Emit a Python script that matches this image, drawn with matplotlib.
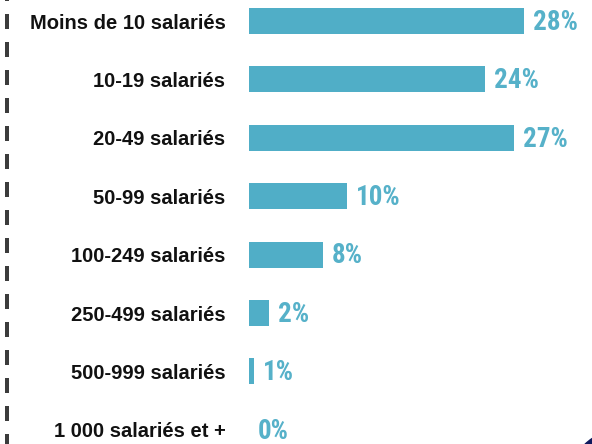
import matplotlib
matplotlib.use("Agg")
import matplotlib.pyplot as plt
from matplotlib.lines import Line2D
from matplotlib.patches import Circle
from matplotlib import font_manager

categories = ["Moins de 10 salariés", "10-19 salariés", "20-49 salariés",
              "50-99 salariés", "100-249 salariés", "250-499 salariés",
              "500-999 salariés", "1 000 salariés et +"]
values = [28, 24, 27, 10, 7.5, 2, 0.5, 0]
value_labels = ["28%", "24%", "27%", "10%", "8%", "2%", "1%", "0%"]

BAR = "#50aec7"
TXT = "#56b1c9"

names = {f.name for f in font_manager.fontManager.ttflist}
val_family = "Roboto Condensed" if "Roboto Condensed" in names else "Roboto"

plt.rcParams['lines.scale_dashes'] = False
W, H = 592, 444
fig = plt.figure(figsize=(W / 100, H / 100), dpi=100)

ax = fig.add_axes([249 / W, 0, 334 / W, 1])
ax.set_xlim(0, 334 / 9.82)
row = 58.4
ax.set_ylim((H - 21) / row, -21 / row)

ypos = list(range(len(categories)))
ax.barh(ypos, values, height=26 / row, color=BAR)
for y, v, lab in zip(ypos, values, value_labels):
    ax.annotate(lab, (v, y), xytext=(6.5, -1), textcoords="offset points",
                va="center", ha="left", color=TXT, fontsize=19.5,
                fontweight=600, family=val_family)

ax.set_yticks(ypos)
ax.set_yticklabels(categories, fontsize=14.5, fontweight="bold",
                   family="Liberation Sans", color="#111111")
ax.tick_params(axis="y", length=0, pad=17)
ax.set_xticks([])
for s in ax.spines.values():
    s.set_visible(False)

# left dashed rule
ln = Line2D([7 / W, 7 / W], [1, 0], transform=fig.transFigure,
            color="#3c3c3c", linewidth=4 * 0.72,
            linestyle=(10.08, (15 * 0.72, 13 * 0.72)),
            dash_capstyle="butt")
fig.add_artist(ln)

# navy circle in bottom-right corner
circ = Circle((6.20, -0.36), 0.50, transform=fig.dpi_scale_trans,
              color="#0f1a5e")
fig.add_artist(circ)

fig.savefig("out.png", dpi=100)
